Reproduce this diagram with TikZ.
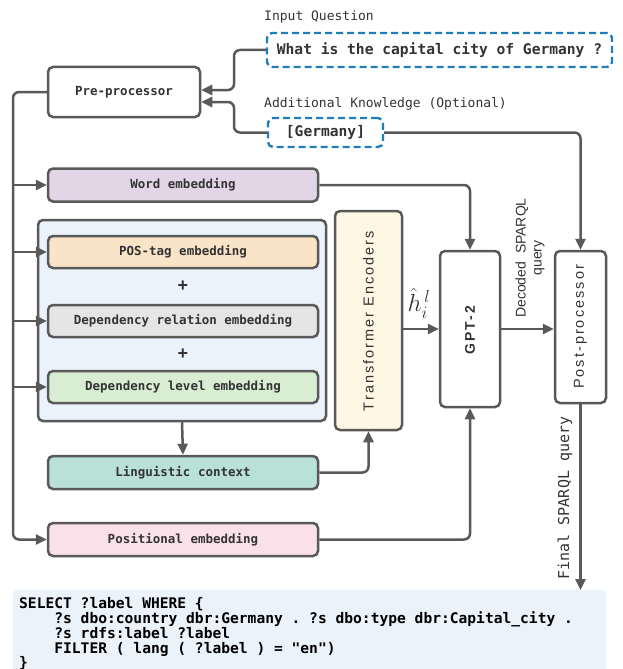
\documentclass[tikz,border=0pt]{standalone}
\usepackage{fontspec}
\setmonofont{DejaVu Sans Mono}
\setsansfont{Liberation Sans}
\newfontfamily\sansls[LetterSpace=14]{Liberation Sans}
\usetikzlibrary{arrows.meta}
\definecolor{linegray}{HTML}{595959}
\definecolor{txtgray}{HTML}{333333}
\definecolor{dashblue}{RGB}{31,126,186}
\definecolor{panelbg}{HTML}{EAF3FC}
\definecolor{wordbg}{HTML}{E2D6E6}
\definecolor{posbg}{HTML}{F9E4C8}
\definecolor{depbg}{HTML}{E5E5E5}
\definecolor{lvlbg}{HTML}{D8EDD2}
\definecolor{lingbg}{HTML}{B9E1D8}
\definecolor{posembg}{HTML}{FAE1E9}
\definecolor{transbg}{HTML}{FDF7E3}
\definecolor{codebg}{HTML}{EAF2FA}
\tikzset{
  box/.style={draw=linegray, line width=2.5pt, rounded corners=5pt, text=txtgray,
    font=\ttfamily\bfseries\fontsize{12.5}{15}\selectfont, inner sep=0pt},
  embbox/.style={box, minimum width=270, minimum height=33},
  dashbox/.style={draw=dashblue, line width=2.4pt, rounded corners=5pt, dash pattern=on 7pt off 4pt,
    text=txtgray, font=\ttfamily\bfseries\fontsize{14.6}{17}\selectfont, inner sep=0pt},
  lbl/.style={text=txtgray, font=\ttfamily\fontsize{13}{15}\selectfont, inner sep=0pt},
  conn/.style={draw=linegray, line width=2.5pt, rounded corners=6pt},
  arr/.style={conn, -{Triangle[length=11pt,width=10pt]}},
  plus/.style={text=txtgray, font=\sffamily\bfseries\fontsize{18}{18}\selectfont, inner sep=0pt}
}
\begin{document}
\begin{tikzpicture}[x=1pt,y=-1pt]
\useasboundingbox (0,0) rectangle (622,669);
% top inputs
\node[lbl, anchor=west] (lblq) at (264,17) {Input Question};
\node[dashbox, minimum width=345, minimum height=34] (q) at (439.5,50) {What is the capital city of Germany ?};
\node[lbl, anchor=west] (lbla) at (264,104) {Additional Knowledge (Optional)};
\node[dashbox, minimum width=115, minimum height=29] (ger) at (325.5,132.5) {[Germany]};
\node[box, minimum width=152, minimum height=50] (pre) at (124,92) {Pre-processor};
% embeddings
\node[embbox, fill=wordbg] (word) at (183,185) {Word embedding};
\node[draw=linegray, line width=2.5pt, rounded corners=5pt, fill=panelbg, minimum width=288, minimum height=201, inner sep=0pt] (panel) at (182,320.5) {};
\node[embbox, minimum height=32, fill=posbg] (pos) at (183,252) {POS-tag embedding};
\node[plus] (p1) at (183,286) {+};
\node[embbox, minimum height=32, fill=depbg] (dep) at (183,321) {Dependency relation embedding};
\node[plus] (p2) at (183,354) {+};
\node[embbox, minimum height=32, fill=lvlbg] (lvl) at (183,387) {Dependency level embedding};
\node[embbox, fill=lingbg] (ling) at (183,472.5) {Linguistic context};
\node[embbox, fill=posembg] (posem) at (183,539.5) {Positional embedding};
% transformer, gpt, post
\node[box, fill=transbg, minimum width=67, minimum height=219] (trans) at (368.5,320.5) {};
\node[rotate=90, text=txtgray, font=\sansls\fontsize{14.5}{16}\selectfont, inner sep=0pt] (transt) at (368.5,321) {Transformer Encoders};
\node[box, minimum width=60, minimum height=156] (gpt) at (470,329) {};
\node[rotate=90, text=txtgray, font=\sansls\bfseries\fontsize{14}{16}\selectfont, inner sep=0pt] (gptt) at (470,330) {GPT-2};
\node[box, minimum width=51, minimum height=152] (post) at (580.5,327) {};
\node[rotate=90, text=txtgray, font=\sansls\fontsize{14.5}{16}\selectfont, inner sep=0pt] (postt) at (580.5,327) {Post-processor};
\node[text=txtgray, font=\fontsize{24}{24}\selectfont, inner sep=0pt] (hl) at (419,303) {$\hat{h}_i^{\,l}$};
\node[rotate=90, align=center, text=txtgray, font=\sffamily\fontsize{14}{16}\selectfont, inner sep=0pt] (dec) at (530,258) {Decoded\ \ SPARQL\\query};
\node[rotate=90, text=txtgray, font=\ttfamily\fontsize{15}{17}\selectfont, inner sep=0pt] (fin) at (565,498) {Final SPARQL query};
% code
\node[fill=codebg, rounded corners=3pt, minimum width=593, minimum height=82, inner sep=0pt, anchor=north west] (code) at (13,590) {};
\node[anchor=north west, align=left, inner sep=0pt, text=black, font=\ttfamily\bfseries\fontsize{14.6}{14.75}\selectfont] (codet) at (19,597.5)
{SELECT ?label WHERE \{\\
\ \ \ \ ?s dbo:country dbr:Germany . ?s dbo:type dbr:Capital\_city .\\
\ \ \ \ ?s rdfs:label ?label\\
\ \ \ \ FILTER ( lang ( ?label ) = "en")\\
\}};
% connectors
\coordinate (tl) at (13,0);
\coordinate (qx) at (234,0);
\draw[arr] (q.west) -- (q.west -| qx) |- ([yshift=2pt]pre.east);
\draw[arr] (ger.west) -- (ger.west -| qx) |- ([yshift=-10pt]pre.east);
\draw[arr] (ger.east) -| (post.north);
\draw[arr] (pre.west) -- (pre.west -| tl) |- (posem.west);
\draw[arr] (tl |- word.west) -- (word.west);
\draw[arr] (tl |- pos.west) -- (pos.west);
\draw[arr] (tl |- dep.west) -- (dep.west);
\draw[arr] (tl |- lvl.west) -- (lvl.west);
\draw[arr] (word.east) -| (gpt.north);
\draw[arr] (posem.east) -| (gpt.south);
\draw[arr] (ling.east) -| (trans.south);
\draw[arr] (panel.south) -- (ling.north);
\draw[arr] (trans.east |- gpt.west) -- (gpt.west);
\draw[arr] (gpt.east) -- (gpt.east -| post.west);
\draw[arr] (post.south) -- (post.south |- code.north);
\end{tikzpicture}
\end{document}
